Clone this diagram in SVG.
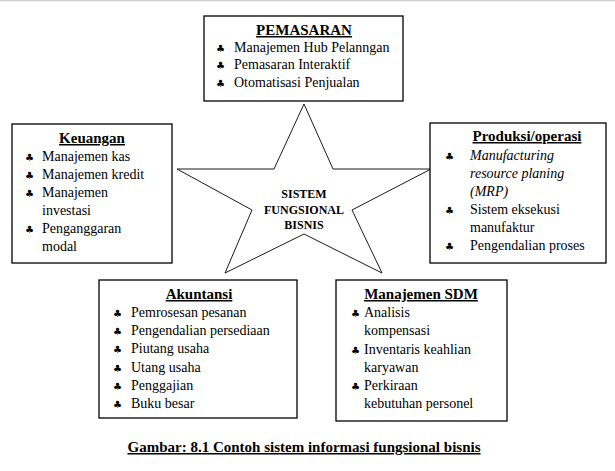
<svg xmlns="http://www.w3.org/2000/svg" width="615" height="471" viewBox="0 0 615 471" font-family="'Liberation Serif', serif">
<style>
.box{fill:#fff;stroke:#000;stroke-width:1.3}
.itm{font-family:'Liberation Serif',serif;font-size:14px;fill:#000}
.ital{font-style:italic}
.hd{font-family:'Liberation Serif',serif;font-size:15px;font-weight:bold;text-decoration:underline;text-anchor:middle;fill:#000}
.bul{font-family:'DejaVu Sans',sans-serif;font-size:10px;fill:#000}
.st{font-family:'Liberation Serif',serif;font-size:12px;font-weight:bold;text-anchor:middle;fill:#000}
.cap{font-family:'Liberation Serif',serif;font-size:15px;font-weight:bold;text-decoration:underline;text-anchor:middle;fill:#000}
</style>
<rect width="615" height="471" fill="#fff"/>
<line x1="0" y1="0.5" x2="615" y2="0.5" stroke="#d0d0d0" stroke-width="1.5"/>
<g id="star">
<polygon points="304,104 333,169 431,169 352,210 382,273 304,234 225,273 252,210 177,169 274,169" fill="#fff" stroke="#000" stroke-width="0.9"/>
<text class="st" x="304" y="198">SISTEM</text>
<text class="st" x="304" y="214">FUNGSIONAL</text>
<text class="st" x="304" y="229">BISNIS</text>
</g>
<g id="pemasaran">
<rect class="box" x="204" y="16" width="199" height="85"/>
<text class="hd" x="304" y="35">PEMASARAN</text>
<text class="bul" x="216" y="52">♣</text><text class="itm" x="234" y="52">Manajemen Hub Pelanngan</text>
<text class="bul" x="216" y="69">♣</text><text class="itm" x="234" y="69">Pemasaran Interaktif</text>
<text class="bul" x="216" y="87">♣</text><text class="itm" x="234" y="87">Otomatisasi Penjualan</text>
</g>
<g id="keuangan">
<rect class="box" x="12" y="124" width="160" height="139"/>
<text class="hd" x="92" y="143">Keuangan</text>
<text class="bul" x="25" y="161">♣</text><text class="itm" x="42" y="161">Manajemen kas</text>
<text class="bul" x="25" y="179">♣</text><text class="itm" x="42" y="179">Manajemen kredit</text>
<text class="bul" x="25" y="197">♣</text><text class="itm" x="42" y="197">Manajemen</text>
<text class="itm" x="42" y="215">investasi</text>
<text class="bul" x="25" y="233">♣</text><text class="itm" x="42" y="233">Penganggaran</text>
<text class="itm" x="42" y="251">modal</text>
</g>
<g id="produksi">
<rect class="box" x="430" y="123" width="176" height="140"/>
<text class="hd" x="527" y="141">Produksi/operasi</text>
<text class="bul" x="445" y="160">♣</text><text class="itm ital" x="470" y="160">Manufacturing</text>
<text class="itm ital" x="470" y="178">resource planing</text>
<text class="itm ital" x="470" y="196">(MRP)</text>
<text class="bul" x="445" y="214">♣</text><text class="itm" x="470" y="214">Sistem eksekusi</text>
<text class="itm" x="470" y="232">manufaktur</text>
<text class="bul" x="445" y="250">♣</text><text class="itm" x="470" y="250">Pengendalian proses</text>
</g>
<g id="akuntansi">
<rect class="box" x="99" y="280" width="198" height="138"/>
<text class="hd" x="199" y="299">Akuntansi</text>
<text class="bul" x="113" y="317">♣</text><text class="itm" x="131" y="317">Pemrosesan pesanan</text>
<text class="bul" x="113" y="335">♣</text><text class="itm" x="131" y="335">Pengendalian persediaan</text>
<text class="bul" x="113" y="353">♣</text><text class="itm" x="131" y="353">Piutang usaha</text>
<text class="bul" x="113" y="372">♣</text><text class="itm" x="131" y="372">Utang usaha</text>
<text class="bul" x="113" y="390">♣</text><text class="itm" x="131" y="390">Penggajian</text>
<text class="bul" x="113" y="408">♣</text><text class="itm" x="131" y="408">Buku besar</text>
</g>
<g id="sdm">
<rect class="box" x="336" y="280" width="171" height="141"/>
<text class="hd" x="421" y="299">Manajemen SDM</text>
<text class="bul" x="351" y="317">♣</text><text class="itm" x="364" y="317">Analisis</text>
<text class="itm" x="364" y="335">kompensasi</text>
<text class="bul" x="351" y="354">♣</text><text class="itm" x="364" y="354">Inventaris keahlian</text>
<text class="itm" x="364" y="372">karyawan</text>
<text class="bul" x="351" y="390">♣</text><text class="itm" x="364" y="390">Perkiraan</text>
<text class="itm" x="364" y="408">kebutuhan personel</text>
</g>
<g id="caption">
<text class="cap" x="304" y="452">Gambar: 8.1 Contoh sistem informasi fungsional bisnis</text>
</g>
</svg>
